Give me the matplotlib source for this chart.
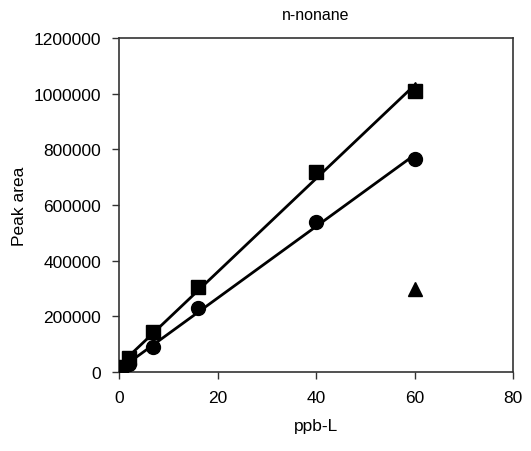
import numpy as np
import matplotlib
matplotlib.use("Agg")
import matplotlib.pyplot as plt

plt.rcParams['font.family'] = ['Liberation Sans', 'DejaVu Sans']

x_sq = [0.5, 2, 7, 16, 40, 60]
y_sq = [18000, 50000, 143000, 305000, 720000, 1010000]
x_ci = [0.5, 2, 7, 16, 40, 60]
y_ci = [8000, 30000, 90000, 230000, 540000, 765000]
x_tr = [60, 60]
y_tr = [1015000, 300000]

title = "n-nonane"
xlabel = "ppb-L"
ylabel = "Peak area"
xticks = [0, 20, 40, 60, 80]
yticks = [0, 200000, 400000, 600000, 800000, 1000000, 1200000]

fig = plt.figure(figsize=(5.31, 4.52), dpi=100)
ax = fig.add_axes([119/531, 1-373/452, (513-119)/531, (373-39)/452])

fs = 12.5
# fitted lines
for xs, ys in [(x_sq, y_sq), (x_ci, y_ci)]:
    k, b = np.polyfit(xs, ys, 1)
    xf = np.array([min(xs), max(xs)])
    ax.plot(xf, k*xf + b, color='black', lw=2.0, zorder=2)

ax.plot(x_tr, y_tr, linestyle='none', marker='^', color='black', ms=9.5, zorder=3)
ax.plot(x_sq, y_sq, linestyle='none', marker='s', color='black', ms=9.5, zorder=4)
ax.plot(x_ci, y_ci, linestyle='none', marker='o', color='black', ms=10, zorder=4)

ax.set_xlim(0, 80)
ax.set_ylim(0, 1200000)
ax.set_xticks(xticks)
ax.set_yticks(yticks)
ax.set_xticklabels([str(v) for v in xticks], fontsize=fs)
ax.set_yticklabels([str(v) for v in yticks], fontsize=fs)
ax.tick_params(direction='out', length=5, width=1, color='#333333', pad=8)
for s in ax.spines.values():
    s.set_color('#333333')
    s.set_linewidth(1.2)
ax.set_xlabel(xlabel, fontsize=fs, labelpad=9)
ax.set_ylabel(ylabel, fontsize=fs, labelpad=5)
ax.set_title(title, fontsize=fs - 1, pad=14)

fig.savefig("out.png", dpi=100)
